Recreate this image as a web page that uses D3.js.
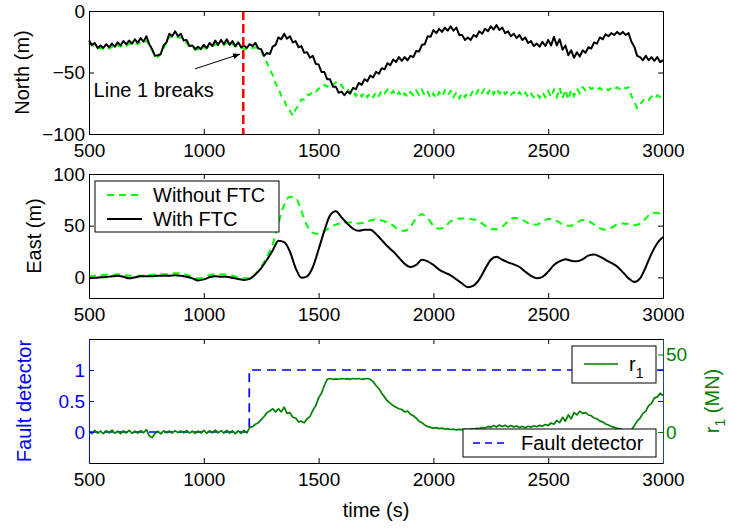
<!DOCTYPE html>
<meta charset="utf-8">
<style>
body {
  margin: 0;
  background-color: #ffffff;
}
svg text {
  font-family: "Liberation Sans", Arial, sans-serif;
}
</style>
<body>
<script src="https://d3js.org/d3.v7.min.js"></script>
<script>
  // ---- data ----
  var xTicks = [500, 1000, 1500, 2000, 2500, 3000];
  var northTicks = [-100, -50, 0];
  var eastTicks = [0, 50, 100];
  var faultTicks = [0, 0.5, 1];
  var r1Ticks = [0, 50];

  // time grids (s)
  var tFine = d3.range(0, 201).map(function(i) { return 500 + i * 12.5; });
  var tEast = d3.range(0, 101).map(function(i) { return 500 + i * 25; });

  // North (m), with FTC
  var northWith = [
    -24,-27.5,-26,-30,-28,-30,-27,-29.5,-26.5,-29,
    -25.5,-28,-24.5,-27,-24,-26.5,-23,-26,-22,-25,
    -20.5,-27,-31,-36.5,-36,-35,-28,-25.5,-18.5,-20.5,
    -16.5,-20.5,-18.5,-24,-23.5,-28.5,-28,-31,-29,-31,
    -27.5,-30,-26,-28.5,-24,-27.5,-23.5,-27,-23,-27.5,
    -24.5,-28.5,-25.5,-29.5,-28,-30,-27,-28.5,-26,-30.5,
    -31,-36.5,-34,-35,-29,-27.5,-21.5,-23,-18.5,-22.5,
    -20.5,-25.5,-24.5,-29.5,-28.5,-34,-33.5,-38,-36.5,-43,
    -43.5,-49.5,-49.5,-55.5,-55.5,-61.5,-61.5,-66.5,-65.5,-68.5,
    -65.5,-67,-62.5,-63.5,-58.5,-60,-55.5,-57,-52.5,-54,
    -49.5,-51,-46.5,-47.5,-42.5,-44,-39.5,-41.5,-37.5,-40.5,
    -37.5,-40,-36.5,-37.5,-32.5,-33,-27.5,-27,-20.5,-21,
    -15.5,-18,-14.5,-17,-13.5,-16,-12.5,-16,-13.5,-19.5,
    -19.5,-23.5,-21.5,-23.5,-19.5,-21,-16.5,-18.5,-14.5,-16.5,
    -12.5,-15,-11.5,-15.5,-13.5,-18,-16.5,-20.5,-18.5,-22,
    -19.5,-23.5,-21.5,-26,-24.5,-28.5,-26.5,-29,-25,-28.5,
    -23.5,-28,-21,-28,-23,-31.5,-28,-36,-32,-38,
    -33.5,-37,-32,-34,-29.5,-30.5,-25.5,-26.5,-21.5,-23,
    -19,-20.5,-18,-19.5,-17,-19,-17,-19.5,-18,-25,
    -29,-36.5,-37.5,-40,-36.5,-40,-37.5,-40.5,-37.5,-41.5,
    -40
  ];

  // North (m), without FTC
  var northWithout = [
    -26,-28,-28,-30.5,-30,-31,-29.5,-30.5,-29,-30,
    -28,-29,-27,-28.5,-26.5,-27.5,-26,-27,-25,-26,
    -24,-28,-32,-36.5,-37.5,-35,-30,-26,-21,-21,
    -19.5,-21.5,-21.5,-25,-26,-29,-30,-31.5,-31,-31.5,
    -30,-30.5,-28.5,-29,-27,-28,-26.5,-27.5,-26,-28,
    -27,-29,-28,-30,-30.5,-31.5,-30.5,-30,-29.5,-31.5,
    -33,-37,-42,-48,-52,-59,-63,-69,-72,-79,
    -81,-85,-80,-77,-72,-72,-68,-68,-65,-66,
    -63,-63,-60,-61.5,-59,-60,-58,-61,-60,-64,
    -63,-67,-65,-69,-66,-69.5,-66,-70,-66.5,-70,
    -66,-69,-64.5,-67,-64,-67.5,-65,-69,-66,-70,
    -67,-70,-66,-68.5,-64.5,-68,-64,-69,-66,-71,
    -67,-71,-66,-69.5,-64.5,-68.5,-65,-70,-66,-71,
    -66.5,-70,-66,-68.5,-64,-67,-63,-66.5,-62.5,-67,
    -63,-67.5,-63,-67,-64,-67.5,-65,-68,-66,-69,
    -66,-69.5,-66.5,-70,-67,-70,-67,-70.5,-66,-70,
    -65,-70,-64,-70,-62.5,-71,-64,-72,-64,-69,
    -63,-67,-62,-64.5,-61.5,-63.5,-62,-64,-62.5,-64.5,
    -63,-64.5,-62.5,-64,-62,-63.5,-61.5,-63,-62,-69,
    -74,-79,-76,-73,-71,-72.5,-69.5,-71.5,-68.5,-70,
    -67.5
  ];

  // East (m)
  var eastWith = [
    -1,-0.5,0,0.3,1,1.5,0.5,-1,0,1,
    1,1,1.5,1.5,1.5,2,1.5,0.5,-1,-3,
    -2,0,1,0.6,0.5,-0.5,-1.6,-2.5,-1.5,3,
    9,17,26,35.5,34,25,9,-0.5,1,10,
    27,45,60,64,58,52,47,45,46,46,
    42,36,30,25,19,13,10,12,17,15.5,
    12,7.5,4.5,2,-2,-6,-9.5,-8,-2,8,
    17,20,17,14.5,12.5,10,5.5,1.5,-1,0.5,
    5.5,12,15.5,17.6,16,15.5,17.5,21,22,20,
    17,14,10.5,5,-1,-4.5,-1,10,23,33,
    39
  ];
  var eastWithout = [
    1,1.5,2,2.5,2.5,3,2.5,1.5,1.5,1.5,
    2,2.5,3,3,3.5,4,4,2.5,0.5,-1,
    0,2,3,3,2.5,1.5,0,-1,-1,3,
    10,20,32,52,70,78,77,64,50,43,
    42,45,48,51,52,53,53,52,53,55,
    56,55,53,50,46,45,49,57,61,57,
    50,47,49,54,56.5,57,56.5,56,54,50,
    47,46.5,49,54,57.5,57,54,51.5,51,54,
    56.5,56,53,50,50,53,55.5,54.5,51,47.5,
    46,48,51,52,51.5,50.5,52,57,62,62.5,
    57
  ];

  // r1 (MN)
  var r1 = [
    0.5,-1,1,-0.8,0.6,-1,0.8,-0.5,1.2,-0.8,
    0.5,-1,0.7,-0.6,1,-0.8,0.5,-0.7,0.9,-0.5,
    1.5,-2.5,-3.5,-1,0.5,-1.2,0.8,-0.5,0.7,-0.6,
    0.8,-0.4,0.6,-0.5,0.8,-0.6,0.5,-0.8,0.6,-0.6,
    1,-0.8,0.8,-0.5,1.2,-0.6,0.9,-0.8,1,-0.7,
    0.8,-1,0.7,-0.9,1,-0.5,3,3.5,5,6,
    8,10,12.5,13.5,15,13,15,13,16,12,
    12.5,9.5,9,6.5,7,6,8.5,10,14,17,
    22,25,30,34,34.5,34,34.3,34,34.5,34.2,
    34.4,34,34.5,34.2,34.5,34,34.3,34.5,34,32.5,
    30,28,25,22.5,20,18.5,17,16,15,14.5,
    13,13.5,11.5,10.5,9,7,6,4.5,3.5,3,
    2.5,2.8,2.2,2.5,1.8,2.2,1.6,1.8,1.4,1.7,
    1.5,1.9,1.6,2,1.8,2.4,2.2,2.9,2.6,3.6,
    3,4.2,3.2,4.5,3.5,4.4,3.3,4.2,3.3,3.9,
    2.9,3.6,2.8,3.7,3.1,4,3.4,4.3,3.8,4.8,
    4.2,5.8,5,7.5,6,9.5,7,11,8.5,12.5,
    11,13.5,12,12.5,11,10.5,9,8.5,7,6.5,
    5.2,4.5,3.6,3,2.4,2,1.5,1.2,1,1.5,
    4,7,9,12,13.5,17,18.5,22,22.5,25,
    23.5
  ];

  // fault detector
  var faultTime = [500, 1198, 1198, 3000];
  var faultValue = [0, 0, 1, 1];

  var breakTime = 1172;

  // ---- layout ----
  var W = 733, H = 531;
  var left = 89, right = 663;
  var panels = [
    {top: 11, bottom: 134},
    {top: 174, bottom: 298},
    {top: 339, bottom: 463}
  ];
  var fs = 19;

  var svg = d3.select("body").append("svg")
      .attr("width", W)
      .attr("height", H);

  svg.append("defs").append("marker")
      .attr("id", "arrow")
      .attr("viewBox", "0 0 10 10")
      .attr("refX", 10).attr("refY", 5)
      .attr("markerWidth", 10).attr("markerHeight", 7)
      .attr("markerUnits", "userSpaceOnUse")
      .attr("orient", "auto")
    .append("path")
      .attr("d", "M0,1 L10,5 L0,9 z")
      .attr("fill", "#000");

  var x = d3.scaleLinear().domain([500, 3000]).range([left, right]);

  function styleAxis(g, color) {
    g.select(".domain").attr("stroke", color).attr("stroke-width", 1);
    g.selectAll(".tick line").attr("stroke", color);
    g.selectAll(".tick text")
      .attr("fill", color)
      .attr("font-size", fs)
      .attr("font-family", "'Liberation Sans', Arial, sans-serif");
    g.attr("font-size", null).attr("font-family", null);
  }

  function plainFmt(d) { return String(d).replace("-", "\u2212"); }

  function frame(p, y, yTicks, leftColor, rightColor) {
    var g = svg.append("g");
    styleAxis(g.append("g")
        .attr("transform", "translate(0," + p.bottom + ")")
        .call(d3.axisBottom(x).tickValues(xTicks).tickSizeInner(-5).tickSizeOuter(0).tickPadding(10).tickFormat(plainFmt)), "#000");
    styleAxis(g.append("g")
        .attr("transform", "translate(0," + p.top + ")")
        .call(d3.axisTop(x).tickValues(xTicks).tickSizeInner(-5).tickSizeOuter(0).tickFormat("")), "#000");
    styleAxis(g.append("g")
        .attr("transform", "translate(" + left + ",0)")
        .call(d3.axisLeft(y).tickValues(yTicks).tickSizeInner(-5).tickSizeOuter(0).tickPadding(4).tickFormat(plainFmt)), leftColor);
    styleAxis(g.append("g")
        .attr("transform", "translate(" + right + ",0)")
        .call(d3.axisRight(y).tickValues(yTicks).tickSizeInner(-5).tickSizeOuter(0).tickFormat("")), rightColor);
    return g;
  }

  // ---- panel 1: North ----
  var p1 = panels[0];
  var yN = d3.scaleLinear().domain([-100, 0]).range([p1.bottom, p1.top]);
  var lineN = d3.line()
      .x(function(d, i) { return x(tFine[i]); })
      .y(function(d) { return yN(d); });

  svg.append("path")
      .datum(northWithout)
      .attr("d", lineN)
      .attr("fill", "none")
      .attr("stroke", "#00ff00")
      .attr("stroke-width", 2)
      .attr("stroke-dasharray", "6,5");
  svg.append("path")
      .datum(northWith)
      .attr("d", lineN)
      .attr("fill", "none")
      .attr("stroke", "#000")
      .attr("stroke-width", 2)
      .attr("stroke-linejoin", "round");
  svg.append("line")
      .attr("x1", x(breakTime)).attr("x2", x(breakTime))
      .attr("y1", yN(0)).attr("y2", yN(-100))
      .attr("stroke", "#ff0000")
      .attr("stroke-width", 2.5)
      .attr("stroke-dasharray", "9,4");
  frame(p1, yN, northTicks, "#000", "#000");

  svg.append("line")
      .attr("x1", x(962)).attr("y1", yN(-47))
      .attr("x2", x(1158)).attr("y2", yN(-35))
      .attr("stroke", "#000")
      .attr("stroke-width", 1)
      .attr("marker-end", "url(#arrow)");
  svg.append("text")
      .attr("x", x(520)).attr("y", yN(-70))
      .attr("font-size", 20)
      .text("Line 1 breaks");

  svg.append("text")
      .attr("transform", "translate(22," + (p1.top + p1.bottom) / 2 + ") rotate(-90)")
      .attr("text-anchor", "middle")
      .attr("dy", "0.35em")
      .attr("font-size", 20)
      .text("North (m)");

  // ---- panel 2: East ----
  var p2 = panels[1];
  var yE = d3.scaleLinear().domain([-20, 100]).range([p2.bottom, p2.top]);
  var lineE = d3.line()
      .curve(d3.curveMonotoneX)
      .x(function(d, i) { return x(tEast[i]); })
      .y(function(d) { return yE(d); });

  svg.append("path")
      .datum(eastWithout)
      .attr("d", lineE)
      .attr("fill", "none")
      .attr("stroke", "#00ff00")
      .attr("stroke-width", 2)
      .attr("stroke-dasharray", "7,5");
  svg.append("path")
      .datum(eastWith)
      .attr("d", lineE)
      .attr("fill", "none")
      .attr("stroke", "#000")
      .attr("stroke-width", 2);
  frame(p2, yE, eastTicks, "#000", "#000");

  svg.append("text")
      .attr("transform", "translate(34," + (p2.top + p2.bottom) / 2 + ") rotate(-90)")
      .attr("text-anchor", "middle")
      .attr("dy", "0.35em")
      .attr("font-size", 20)
      .text("East (m)");

  // legend
  var lg = svg.append("g");
  lg.append("rect")
      .attr("x", 95).attr("y", 181).attr("width", 184).attr("height", 51)
      .attr("fill", "#fff").attr("stroke", "#000").attr("stroke-width", 1);
  var legendItems = [
    {label: "Without FTC", color: "#00ff00", dash: "7,5", y: 195},
    {label: "With FTC", color: "#000", dash: null, y: 219}
  ];
  legendItems.forEach(function(d) {
    lg.append("line")
        .attr("x1", 107).attr("x2", 142).attr("y1", d.y).attr("y2", d.y)
        .attr("stroke", d.color).attr("stroke-width", 2)
        .attr("stroke-dasharray", d.dash);
    lg.append("text")
        .attr("x", 153).attr("y", d.y).attr("dy", "0.35em")
        .attr("font-size", 20)
        .text(d.label);
  });

  // ---- panel 3: fault detector + r1 ----
  var p3 = panels[2];
  var yF = d3.scaleLinear().domain([-0.5, 1.5]).range([p3.bottom, p3.top]);
  var yR = d3.scaleLinear().domain([-20, 60]).range([p3.bottom, p3.top]);

  svg.append("path")
      .datum(faultValue)
      .attr("d", d3.line()
        .x(function(d, i) { return x(faultTime[i]); })
        .y(function(d) { return yF(d); }))
      .attr("fill", "none")
      .attr("stroke", "#0000ff")
      .attr("stroke-width", 1.7)
      .attr("stroke-dasharray", "9,6");
  svg.append("path")
      .datum(r1)
      .attr("d", d3.line()
        .x(function(d, i) { return x(tFine[i]); })
        .y(function(d) { return yR(d); }))
      .attr("fill", "none")
      .attr("stroke", "#008000")
      .attr("stroke-width", 1.7)
      .attr("stroke-linejoin", "round");

  frame(p3, yF, faultTicks, "#0000ff", "#0000ff");
  var gr = svg.append("g")
      .attr("transform", "translate(" + right + ",0)")
      .call(d3.axisRight(yR).tickValues(r1Ticks).tickSizeInner(-5).tickSizeOuter(0).tickPadding(3).tickFormat(plainFmt));
  styleAxis(gr, "#008000");
  gr.select(".domain").attr("stroke", "#1b4f72");

  svg.append("text")
      .attr("transform", "translate(24," + (p3.top + p3.bottom) / 2 + ") rotate(-90)")
      .attr("text-anchor", "middle")
      .attr("dy", "0.35em")
      .attr("font-size", 20)
      .attr("fill", "#0000ff")
      .text("Fault detector");

  var rl = svg.append("text")
      .attr("transform", "translate(712," + (p3.top + p3.bottom) / 2 + ") rotate(-90)")
      .attr("text-anchor", "middle")
      .attr("dy", "0.35em")
      .attr("font-size", 20)
      .attr("fill", "#008000");
  rl.append("tspan").text("r");
  rl.append("tspan").attr("font-size", 14).attr("dy", 6).text("1");
  rl.append("tspan").attr("dy", -6).text(" (MN)");

  // legends in bottom panel
  var lr = svg.append("g");
  lr.append("rect")
      .attr("x", 572).attr("y", 346).attr("width", 84).attr("height", 37)
      .attr("fill", "#fff").attr("stroke", "#000").attr("stroke-width", 1);
  lr.append("line")
      .attr("x1", 584).attr("x2", 618).attr("y1", 364).attr("y2", 364)
      .attr("stroke", "#008000").attr("stroke-width", 1.7);
  var rt = lr.append("text")
      .attr("x", 629).attr("y", 364).attr("dy", "0.35em")
      .attr("font-size", 20);
  rt.append("tspan").text("r");
  rt.append("tspan").attr("font-size", 14).attr("dy", 7).text("1");

  var lf = svg.append("g");
  lf.append("rect")
      .attr("x", 463).attr("y", 429).attr("width", 193).attr("height", 28)
      .attr("fill", "#fff").attr("stroke", "#000").attr("stroke-width", 1);
  lf.append("line")
      .attr("x1", 473).attr("x2", 508).attr("y1", 443).attr("y2", 443)
      .attr("stroke", "#0000ff").attr("stroke-width", 1.7)
      .attr("stroke-dasharray", "7,5");
  lf.append("text")
      .attr("x", 521).attr("y", 443).attr("dy", "0.35em")
      .attr("font-size", 20)
      .text("Fault detector");

  svg.append("text")
      .attr("x", (left + right) / 2).attr("y", 517)
      .attr("text-anchor", "middle")
      .attr("font-size", 20)
      .text("time (s)");
</script>
</body>
